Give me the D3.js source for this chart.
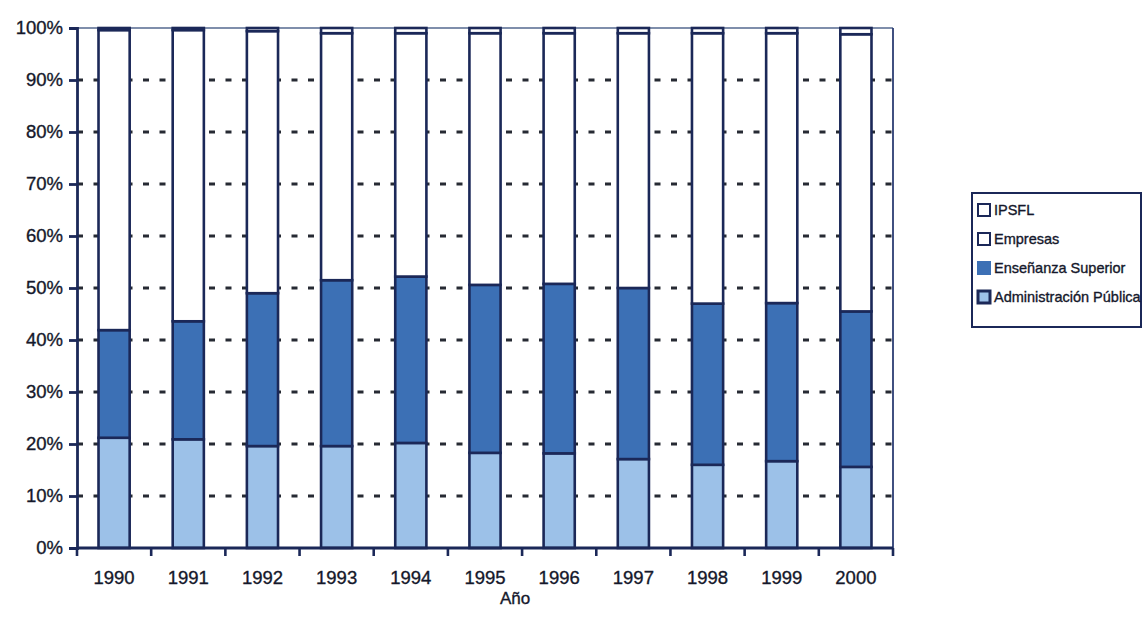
<!DOCTYPE html>
<html>
<head>
<meta charset="utf-8">
<script src="https://cdn.jsdelivr.net/npm/d3@7"></script>
<style>
  html, body { margin: 0; padding: 0; background: #ffffff; }
  svg { display: block; }
  text { font-family: "Liberation Sans", Arial, Helvetica, sans-serif; fill: #15182b; stroke: #15182b; stroke-width: 0.35px; }
</style>
</head>
<body>
<svg id="chart" width="1142" height="623"></svg>
<script>
// ---- data (percent shares) ----
const years = ["1990","1991","1992","1993","1994","1995","1996","1997","1998","1999","2000"];
const seriesNames = ["Administración Pública","Enseñanza Superior","Empresas","IPSFL"];
const adminPublica = [21.2, 20.9, 19.6, 19.6, 20.2, 18.3, 18.2, 17.1, 16.0, 16.7, 15.6];
const ensenanzaSuperior = [20.7, 22.7, 29.4, 31.9, 32.0, 32.3, 32.6, 32.9, 31.0, 30.4, 29.9];
const empresas = [57.7, 56.0, 50.4, 47.5, 46.8, 48.4, 48.2, 49.0, 52.0, 51.9, 53.3];
const ipsfl = [0.4, 0.4, 0.6, 1.0, 1.0, 1.0, 1.0, 1.0, 1.0, 1.0, 1.2];
const yTicks = [0, 0.1, 0.2, 0.3, 0.4, 0.5, 0.6, 0.7, 0.8, 0.9, 1.0];
const legendOrder = ["IPSFL","Empresas","Enseñanza Superior","Administración Pública"];
const xTitle = "Año";

// ---- styles ----
const colors = {
  "Administración Pública": "#9cc1e8",
  "Enseñanza Superior": "#3c70b5",
  "Empresas": "#ffffff",
  "IPSFL": "#ffffff"
};
const navy = "#1b2858";

const svg = d3.select("#chart");
const mLeft = 77, mRight = 893, mTop = 28, mBottom = 548;

const rows = years.map((yv, i) => ({
  year: yv,
  "Administración Pública": adminPublica[i],
  "Enseñanza Superior": ensenanzaSuperior[i],
  "Empresas": empresas[i],
  "IPSFL": ipsfl[i]
}));

const stack = d3.stack().keys(seriesNames).offset(d3.stackOffsetExpand);
const stacked = stack(rows);

const x = d3.scaleBand().domain(years).range([mLeft, mRight]).padding(0);
const y = d3.scaleLinear().domain([0, 1]).range([mBottom, mTop]);
const barW = x.bandwidth() * 0.42;

// top and right frame
svg.append("line").attr("x1", mLeft).attr("x2", mRight).attr("y1", mTop).attr("y2", mTop)
  .attr("stroke", "#55698f").attr("stroke-width", 1.3);
svg.append("line").attr("x1", mRight).attr("x2", mRight).attr("y1", mTop).attr("y2", mBottom)
  .attr("stroke", "#2c3d73").attr("stroke-width", 1.8);

// dotted gridlines
svg.append("g").selectAll("line")
  .data(yTicks.filter(t => t > 0 && t < 1))
  .join("line")
  .attr("x1", mLeft).attr("x2", mRight)
  .attr("y1", d => y(d)).attr("y2", d => y(d))
  .attr("stroke", "#262a33").attr("stroke-width", 3)
  .attr("stroke-dasharray", "6,10.5");

// bars
svg.append("g").selectAll("g")
  .data(stacked)
  .join("g")
  .attr("fill", d => colors[d.key])
  .selectAll("rect")
  .data(d => d)
  .join("rect")
  .attr("x", d => x(d.data.year) + (x.bandwidth() - barW) / 2)
  .attr("width", barW)
  .attr("y", d => y(d[1]))
  .attr("height", d => y(d[0]) - y(d[1]))
  .attr("stroke", navy).attr("stroke-width", 2.6);

// y axis
const yAxis = d3.axisLeft(y).tickValues(yTicks).tickFormat(d3.format(".0%")).tickSize(8).tickPadding(6);
const gy = svg.append("g").attr("transform", `translate(${mLeft},0)`).call(yAxis);
gy.select(".domain").attr("stroke", navy).attr("stroke-width", 2.8);
gy.selectAll(".tick line").attr("stroke", navy).attr("stroke-width", 2.8);
gy.selectAll(".tick text").attr("font-size", 18.5).attr("fill", "#15182b")
  .attr("font-family", "Liberation Sans, Arial, sans-serif");

// x axis: ticks at band boundaries
const boundaries = years.map(yv => x(yv)).concat([mRight]);
svg.append("line").attr("x1", mLeft).attr("x2", mRight).attr("y1", mBottom).attr("y2", mBottom)
  .attr("stroke", navy).attr("stroke-width", 2.8);
svg.append("g").selectAll("line").data(boundaries).join("line")
  .attr("x1", d => d).attr("x2", d => d).attr("y1", mBottom).attr("y2", mBottom + 8)
  .attr("stroke", navy).attr("stroke-width", 2.6);
svg.append("g").selectAll("text").data(years).join("text")
  .attr("x", d => x(d) + x.bandwidth() / 2)
  .attr("y", mBottom + 36)
  .attr("text-anchor", "middle")
  .attr("font-size", 18.5)
  .text(d => d);
svg.append("text").attr("x", 515).attr("y", 604).attr("text-anchor", "middle")
  .attr("font-size", 17).text(xTitle);

// legend
const lg = svg.append("g").attr("transform", "translate(972,193)");
lg.append("rect").attr("x", 0).attr("y", 0).attr("width", 169).attr("height", 134)
  .attr("fill", "#ffffff").attr("stroke", navy).attr("stroke-width", 2);
const items = lg.selectAll("g.item").data(legendOrder).join("g")
  .attr("class", "item")
  .attr("transform", (d, i) => `translate(6,${17 + i * 29})`);
items.append("rect").attr("x", 0).attr("y", -6).attr("width", 12).attr("height", 12)
  .attr("fill", d => colors[d])
  .attr("stroke", d => d === "Enseñanza Superior" ? "#3c70b5" : navy)
  .attr("stroke-width", d => d === "Administración Pública" ? 3 : 2);
items.append("text").attr("x", 16).attr("y", 5).attr("font-size", 14.5).text(d => d);
</script>
</body>
</html>
